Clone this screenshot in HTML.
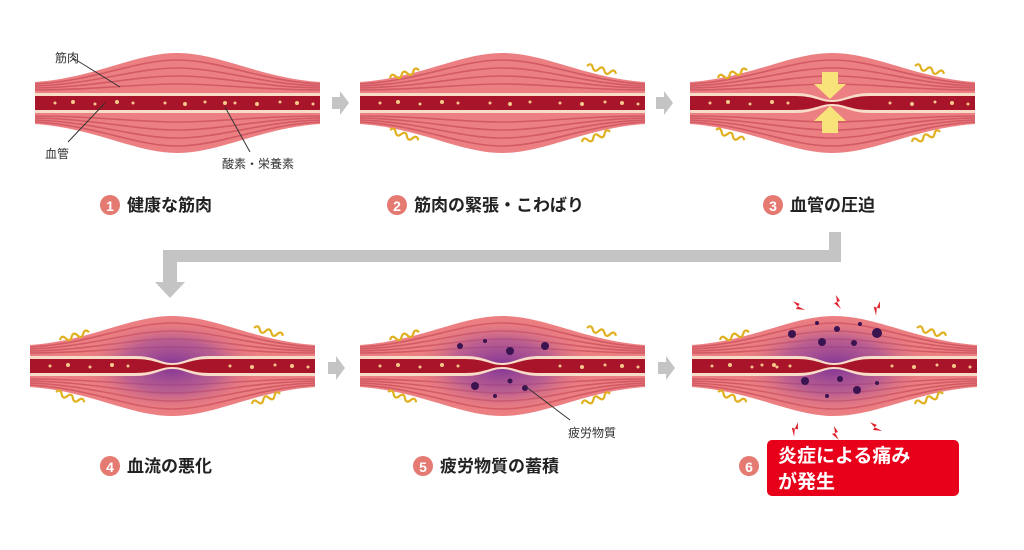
<!DOCTYPE html>
<html><head><meta charset="utf-8"><style>
html,body{margin:0;padding:0;background:#fff;}
svg{display:block;}
text{font-family:"Liberation Sans","Noto Sans CJK JP",sans-serif;}
</style></head><body>
<svg width="1024" height="550" viewBox="0 0 1024 550" xmlns="http://www.w3.org/2000/svg">
<defs>
<radialGradient id="pur" cx="0.5" cy="0.5" r="0.5">
<stop offset="0" stop-color="#7a2f96" stop-opacity="0.95"/>
<stop offset="0.55" stop-color="#9a4a9a" stop-opacity="0.6"/>
<stop offset="1" stop-color="#e8767a" stop-opacity="0"/>
</radialGradient>
<g id="m">
<path d="M0,-21 C60,-25 100,-50 142,-50 C185,-50 225,-25 285,-21 L285,21 C225,25 185,50 142,50 C100,50 60,25 0,21 Z" fill="#ec7f82"/>
<g fill="none" stroke="#d25a64" stroke-width="1.6">
<path d="M0,-19 C60,-22 100,-43 142,-43 C185,-43 225,-22 285,-19"/>
<path d="M0,-17 C60,-19 100,-35 142,-35 C185,-35 225,-19 285,-17"/>
<path d="M0,-15 C60,-16 100,-27 142,-27 C185,-27 225,-16 285,-15"/>
<path d="M0,-13 C60,-13 100,-19 142,-19 C185,-19 225,-13 285,-13"/>
<path d="M0,19 C60,22 100,43 142,43 C185,43 225,22 285,19"/>
<path d="M0,17 C60,19 100,35 142,35 C185,35 225,19 285,17"/>
<path d="M0,15 C60,16 100,27 142,27 C185,27 225,16 285,15"/>
<path d="M0,13 C60,13 100,19 142,19 C185,19 225,13 285,13"/>
</g>
</g>
<g id="v">
<rect x="0" y="-10" width="285" height="20" fill="#f8dcc8"/>
<rect x="0" y="-7" width="285" height="14" fill="#a8142a"/>
</g>
<g id="vc">
<path d="M0,-10 L105,-10 C125,-10 130,-3 142,-3 C155,-3 160,-10 180,-10 L285,-10 L285,10 L180,10 C160,10 155,3 142,3 C130,3 125,10 105,10 L0,10Z" fill="#f8dcc8"/>
<path d="M0,-7 L105,-7 C125,-7 130,-1 142,-1 C155,-1 160,-7 180,-7 L285,-7 L285,7 L180,7 C160,7 155,1 142,1 C130,1 125,7 105,7 L0,7Z" fill="#a8142a"/>
</g>
<g id="dots" fill="#f6c98a">
<circle cx="20" cy="0" r="1.5"/><circle cx="38" cy="-1" r="2"/><circle cx="60" cy="1" r="1.5"/><circle cx="82" cy="-1" r="2"/><circle cx="98" cy="0" r="1.5"/>
</g>
<g id="dotsR" fill="#f6c98a">
<circle cx="200" cy="0" r="1.5"/><circle cx="222" cy="1" r="2"/><circle cx="245" cy="-1" r="1.5"/><circle cx="262" cy="0" r="2"/><circle cx="278" cy="1" r="1.5"/>
</g>
<g id="sq" fill="none" stroke="#e0b020" stroke-width="2.2">
<path d="M0,0 q3,-5 6,0 t6,0 t6,0 t6,0 t6,0" />
</g>
<g id="bolt" fill="#e0202a"><path d="M0,-7 L4,-1 L1,0 L5,7 L-2,1 L1,0 Z"/></g>
</defs>

<!-- Row 1 -->
<g transform="translate(35,103)">
<use href="#m"/><use href="#v"/><use href="#dots"/>
<g fill="#f6c98a"><circle cx="130" cy="0" r="1.5"/><circle cx="150" cy="1" r="2"/><circle cx="170" cy="-1" r="1.5"/><circle cx="190" cy="0" r="2"/></g>
<use href="#dotsR"/>
</g>
<g stroke="#333" stroke-width="1" fill="none">
<path d="M73,58 L120,87"/><path d="M105,103 L68,142"/><path d="M225,107 L250,152"/>
</g>
<text x="55" y="62" font-size="12" fill="#333">筋肉</text>
<text x="45" y="158" font-size="12" fill="#333">血管</text>
<text x="222" y="168" font-size="12" fill="#333">酸素・栄養素</text>

<g transform="translate(360,103)">
<use href="#m"/><use href="#v"/><use href="#dots"/>
<g fill="#f6c98a"><circle cx="130" cy="0" r="1.5"/><circle cx="150" cy="1" r="2"/><circle cx="170" cy="-1" r="1.5"/></g>
<use href="#dotsR"/>
</g>
<use href="#sq" transform="translate(390,78) rotate(-15)"/>
<use href="#sq" transform="translate(587,66) rotate(15)"/>
<use href="#sq" transform="translate(390,130) rotate(20)"/>
<use href="#sq" transform="translate(582,142) rotate(-20)"/>

<g transform="translate(690,103)">
<use href="#m"/><use href="#vc"/><use href="#dots"/><use href="#dotsR"/>
</g>
<use href="#sq" transform="translate(718,78) rotate(-15)"/>
<use href="#sq" transform="translate(915,66) rotate(15)"/>
<use href="#sq" transform="translate(716,130) rotate(20)"/>
<use href="#sq" transform="translate(912,142) rotate(-20)"/>
<g fill="#f8e27a">
<path d="M822,72 h16 v12 h8 l-16,15 l-16,-15 h8z"/>
<path d="M822,133 h16 v-12 h8 l-16,-15 l-16,15 h8z"/>
</g>

<!-- arrows -->
<g fill="#c4c4c4">
<path d="M332,97 h8 v-6 l9,12 l-9,12 v-6 h-8z"/>
<path d="M656,97 h8 v-6 l9,12 l-9,12 v-6 h-8z"/>
<path d="M328,362 h8 v-6 l9,12 l-9,12 v-6 h-8z"/>
<path d="M658,362 h8 v-6 l9,12 l-9,12 v-6 h-8z"/>
<path d="M829,232 h12 v30 h-664 v20 h8 l-15,16 l-15,-16 h8 v-32 h666z"/>
</g>

<!-- labels row 1 -->
<g font-size="17" font-weight="bold" fill="#222">
<circle cx="110" cy="205" r="10" fill="#e57a72"/><text x="110" y="211" font-size="14" fill="#fff" text-anchor="middle">1</text>
<text x="127" y="211">健康な筋肉</text>
<circle cx="397" cy="205" r="10" fill="#e57a72"/><text x="397" y="211" font-size="14" fill="#fff" text-anchor="middle">2</text>
<text x="414" y="211">筋肉の緊張・こわばり</text>
<circle cx="773" cy="205" r="10" fill="#e57a72"/><text x="773" y="211" font-size="14" fill="#fff" text-anchor="middle">3</text>
<text x="790" y="211">血管の圧迫</text>
</g>

<!-- Row 2 -->
<g transform="translate(30,366)">
<use href="#m"/><ellipse cx="142" cy="0" rx="90" ry="48" fill="url(#pur)"/><use href="#vc"/><use href="#dots"/><use href="#dotsR"/>
</g>
<use href="#sq" transform="translate(60,340) rotate(-15)"/>
<use href="#sq" transform="translate(254,328) rotate(15)"/>
<use href="#sq" transform="translate(56,392) rotate(20)"/>
<use href="#sq" transform="translate(252,404) rotate(-20)"/>

<g transform="translate(360,366)">
<use href="#m"/><ellipse cx="142" cy="0" rx="90" ry="48" fill="url(#pur)"/><use href="#vc"/><use href="#dots"/><use href="#dotsR"/>
<g fill="#3a1450"><circle cx="100" cy="-20" r="3"/><circle cx="125" cy="-25" r="2"/><circle cx="150" cy="-15" r="4"/><circle cx="185" cy="-20" r="4"/><circle cx="115" cy="20" r="4"/><circle cx="150" cy="15" r="2.5"/><circle cx="165" cy="22" r="3"/><circle cx="135" cy="30" r="2"/></g>
</g>
<use href="#sq" transform="translate(390,340) rotate(-15)"/>
<use href="#sq" transform="translate(587,328) rotate(15)"/>
<use href="#sq" transform="translate(388,392) rotate(20)"/>
<use href="#sq" transform="translate(582,404) rotate(-20)"/>
<path d="M525,386 L570,420" stroke="#333" fill="none"/>
<text x="568" y="437" font-size="12" fill="#333">疲労物質</text>

<g transform="translate(692,366)">
<use href="#m"/><ellipse cx="142" cy="0" rx="95" ry="50" fill="url(#pur)"/><use href="#vc"/><use href="#dots"/>
<g fill="#f6c98a"><circle cx="70" cy="-1" r="1.5"/><circle cx="85" cy="1" r="1.5"/></g>
<use href="#dotsR"/>
<g fill="#3a1450"><circle cx="125" cy="-43" r="2"/><circle cx="100" cy="-32" r="4"/><circle cx="145" cy="-37" r="3"/><circle cx="168" cy="-42" r="2"/><circle cx="185" cy="-33" r="5"/><circle cx="130" cy="-24" r="4"/><circle cx="162" cy="-23" r="3"/><circle cx="113" cy="15" r="4"/><circle cx="148" cy="13" r="3"/><circle cx="165" cy="24" r="4"/><circle cx="185" cy="17" r="2"/><circle cx="135" cy="30" r="2"/></g>
</g>
<use href="#sq" transform="translate(720,340) rotate(-15)"/>
<use href="#sq" transform="translate(917,328) rotate(15)"/>
<use href="#sq" transform="translate(718,392) rotate(20)"/>
<use href="#sq" transform="translate(915,404) rotate(-20)"/>
<use href="#bolt" transform="translate(797,307) rotate(-35)"/>
<use href="#bolt" transform="translate(836,302)"/>
<use href="#bolt" transform="translate(876,307) rotate(35)"/>
<use href="#bolt" transform="translate(794,428) rotate(35)"/>
<use href="#bolt" transform="translate(834,433)"/>
<use href="#bolt" transform="translate(874,428) rotate(-35)"/>

<!-- labels row 2 -->
<g font-size="17" font-weight="bold" fill="#222">
<circle cx="110" cy="466" r="10" fill="#e57a72"/><text x="110" y="472" font-size="14" fill="#fff" text-anchor="middle">4</text>
<text x="127" y="472">血流の悪化</text>
<circle cx="423" cy="466" r="10" fill="#e57a72"/><text x="423" y="472" font-size="14" fill="#fff" text-anchor="middle">5</text>
<text x="440" y="472">疲労物質の蓄積</text>
<circle cx="749" cy="466" r="10" fill="#e57a72"/><text x="749" y="472" font-size="14" fill="#fff" text-anchor="middle">6</text>
</g>
<rect x="767" y="440" width="192" height="56" rx="5" fill="#e8001a"/>
<g font-size="19" font-weight="bold" fill="#fff">
<text x="778" y="462">炎症による痛み</text>
<text x="778" y="488">が発生</text>
</g>
</svg>
</body></html>
